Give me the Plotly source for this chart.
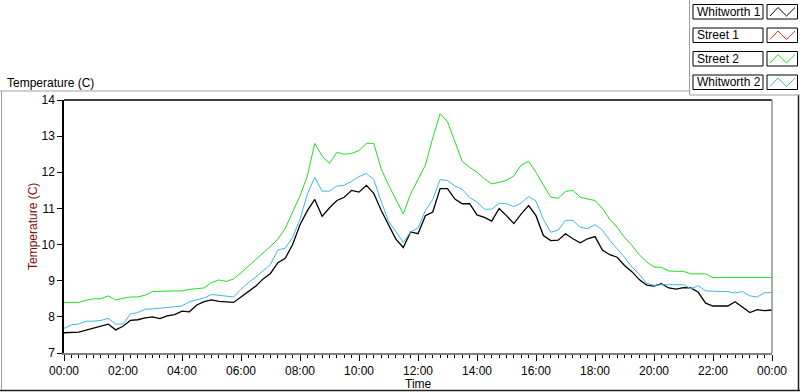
import plotly.graph_objects as go
import pandas as pd

# ---- data (15-minute samples over one day) ----
times = pd.date_range("2000-01-01 00:00", "2000-01-02 00:00", freq="15min")

whitworth1 = [7.56, 7.58, 7.58, 7.63, 7.68, 7.74, 7.80, 7.64, 7.74, 7.90, 7.92, 7.97,
              8.00, 7.95, 8.03, 8.06, 8.16, 8.14, 8.33, 8.42, 8.47, 8.43, 8.42, 8.40,
              8.55, 8.70, 8.85, 9.05, 9.20, 9.50, 9.62, 10.00, 10.55, 10.94, 11.25, 10.78,
              11.02, 11.22, 11.31, 11.50, 11.45, 11.64, 11.42, 10.95, 10.55, 10.15, 9.92, 10.35,
              10.30, 10.80, 10.90, 11.55, 11.55, 11.26, 11.13, 11.13, 10.82, 10.75, 10.65, 11.00,
              10.80, 10.58, 10.85, 11.08, 10.80, 10.25, 10.11, 10.12, 10.30, 10.16, 10.05, 10.16,
              10.22, 9.85, 9.72, 9.65, 9.42, 9.25, 9.03, 8.88, 8.85, 8.92, 8.80, 8.77,
              8.81, 8.80, 8.68, 8.38, 8.30, 8.30, 8.30, 8.42, 8.26, 8.12, 8.20, 8.17, 8.19]

street1 = []  # no data shown

street2 = [8.40, 8.40, 8.40, 8.46, 8.50, 8.50, 8.58, 8.47, 8.52, 8.55, 8.55, 8.60,
           8.70, 8.70, 8.70, 8.70, 8.72, 8.76, 8.77, 8.80, 8.95, 9.02, 8.98, 9.05,
           9.22, 9.40, 9.60, 9.78, 9.95, 10.15, 10.45, 10.90, 11.35, 11.90, 12.80, 12.45,
           12.25, 12.55, 12.50, 12.52, 12.60, 12.80, 12.80, 12.10, 11.65, 11.25, 10.85, 11.40,
           11.80, 12.20, 12.95, 13.62, 13.40, 12.85, 12.30, 12.14, 12.00, 11.82, 11.68, 11.72,
           11.78, 11.90, 12.20, 12.30, 12.00, 11.65, 11.31, 11.28, 11.47, 11.50, 11.31, 11.26,
           11.22, 11.00, 10.70, 10.48, 10.20, 9.98, 9.72, 9.52, 9.38, 9.37, 9.27, 9.26,
           9.26, 9.19, 9.19, 9.19, 9.09, 9.09, 9.09, 9.09, 9.11, 9.09, 9.09, 9.09, 9.09]

whitworth2 = [7.68, 7.78, 7.80, 7.88, 7.88, 7.90, 7.96, 7.80, 7.80, 8.08, 8.12, 8.21,
              8.22, 8.24, 8.26, 8.28, 8.30, 8.42, 8.48, 8.52, 8.62, 8.60, 8.56, 8.55,
              8.76, 8.95, 9.10, 9.28, 9.45, 9.85, 9.90, 10.20, 10.70, 11.40, 11.86, 11.48,
              11.48, 11.62, 11.64, 11.75, 11.88, 11.97, 11.80, 11.20, 10.65, 10.36, 10.06, 10.35,
              10.46, 10.94, 11.25, 11.80, 11.77, 11.62, 11.53, 11.30, 11.18, 10.98, 10.98, 11.14,
              11.13, 11.05, 11.15, 11.33, 11.20, 10.70, 10.34, 10.40, 10.67, 10.67, 10.48, 10.44,
              10.55, 10.40, 10.12, 9.88, 9.65, 9.38, 9.18, 8.93, 8.87, 8.89, 8.89, 8.89,
              8.89, 8.78, 8.86, 8.72, 8.70, 8.70, 8.70, 8.66, 8.70, 8.58, 8.55, 8.67, 8.67]

series_names = ["Whitworth 1", "Street 1", "Street 2", "Whitworth 2"]
series_values = [whitworth1, street1, street2, whitworth2]
series_colors = ["#000000", "#ff3030", "#22dd22", "#3cb8f0"]
series_widths = [1.3, 1.0, 1.0, 1.0]

y_ticks = [7, 8, 9, 10, 11, 12, 13, 14]

# ---- geometry (pixels) ----
W, H = 800, 392
L, R, T, B = 64, 772, 100, 353
FONT = "Liberation Sans"


def px(x):
    return (x - L) / (R - L)


def py(y):
    return (B - y) / (B - T)


fig = go.Figure()
for name, vals, col, w in zip(series_names, series_values, series_colors, series_widths):
    fig.add_trace(go.Scatter(x=times[:len(vals)], y=vals, mode="lines", name=name,
                             line=dict(color=col, width=w), showlegend=False))

shapes = []
gray = "#a0a0a0"
# outer panel
shapes.append(dict(type="line", xref="paper", yref="paper", x0=px(0), x1=px(689), y0=py(91), y1=py(91),
                   line=dict(color=gray, width=1)))
shapes.append(dict(type="line", xref="paper", yref="paper", x0=px(1.5), x1=px(1.5), y0=py(91), y1=py(391),
                   line=dict(color=gray, width=1)))
shapes.append(dict(type="line", xref="paper", yref="paper", x0=px(0), x1=px(800), y0=py(390.5), y1=py(390.5),
                   line=dict(color="#202020", width=1.5)))
shapes.append(dict(type="line", xref="paper", yref="paper", x0=px(798.5), x1=px(798.5), y0=py(95), y1=py(391),
                   line=dict(color="#202020", width=1.5)))
# legend frame
shapes.append(dict(type="line", xref="paper", yref="paper", x0=px(689.5), x1=px(689.5), y0=py(0), y1=py(95),
                   line=dict(color=gray, width=1)))
shapes.append(dict(type="line", xref="paper", yref="paper", x0=px(689.5), x1=px(800), y0=py(95), y1=py(95),
                   line=dict(color=gray, width=1)))
# plot frame: top black, right/bottom gray
shapes.append(dict(type="line", xref="paper", yref="paper", x0=0, x1=1, y0=1, y1=1,
                   line=dict(color="black", width=1.5)))
shapes.append(dict(type="line", xref="paper", yref="paper", x0=1, x1=1, y0=0, y1=1,
                   line=dict(color="#909090", width=1.5)))

annotations = []
# custom legend
row_tops = [4.5, 28, 51.5, 75]
for name, col, top in zip(series_names, series_colors, row_tops):
    bot = top + 14.5
    shapes.append(dict(type="rect", xref="paper", yref="paper", x0=px(693), x1=px(763), y0=py(bot), y1=py(top),
                       line=dict(color="black", width=1), fillcolor="white"))
    shapes.append(dict(type="rect", xref="paper", yref="paper", x0=px(767), x1=px(797.5), y0=py(bot), y1=py(top),
                       line=dict(color="black", width=1), fillcolor="white"))
    pts = [(770, bot - 3), (778, top + 3), (786.5, bot - 3), (795, top + 3)]
    path = "M " + " L ".join(f"{px(a):.5f},{py(b):.5f}" for a, b in pts)
    shapes.append(dict(type="path", xref="paper", yref="paper", path=path,
                       line=dict(color=col, width=1)))
    annotations.append(dict(text=name, xref="paper", yref="paper", x=px(695), y=py((top + bot) / 2),
                            xanchor="left", yanchor="middle", showarrow=False,
                            font=dict(family=FONT, size=12, color="black")))

# panel caption
annotations.append(dict(text="Temperature (C)", xref="paper", yref="paper", x=px(5), y=py(83),
                        xanchor="left", yanchor="middle", showarrow=False,
                        font=dict(family=FONT, size=12, color="black")))
# axis titles
annotations.append(dict(text="Temperature (C)", xref="paper", yref="paper", x=px(33), y=py(227),
                        xanchor="center", yanchor="middle", textangle=-90, showarrow=False,
                        font=dict(family=FONT, size=12, color="#7a1010")))
annotations.append(dict(text="Time", xref="paper", yref="paper", x=px(418), y=py(384),
                        xanchor="center", yanchor="middle", showarrow=False,
                        font=dict(family=FONT, size=12, color="black")))

fig.update_layout(
    width=W, height=H,
    margin=dict(l=L, r=W - R, t=T, b=H - B, pad=0),
    paper_bgcolor="white", plot_bgcolor="white",
    showlegend=False,
    font=dict(family=FONT, size=12, color="black"),
    shapes=shapes, annotations=annotations,
    xaxis=dict(type="date", range=[times[0], times[-1]], tickformat="%H:%M", dtick=7200000,
               tick0=times[0], showgrid=False, zeroline=False,
               showline=True, linecolor="#808080", linewidth=1.5,
               ticks="outside", ticklen=6, tickcolor="black", tickwidth=1,
               minor=dict(dtick=900000, ticks="outside", ticklen=3, tickcolor="black", showgrid=False),
               tickfont=dict(family=FONT, size=12, color="black")),
    yaxis=dict(range=[7, 14], tickvals=y_ticks, showgrid=False, zeroline=False,
               showline=True, linecolor="black", linewidth=1.5,
               ticks="outside", ticklen=5, tickcolor="black",
               tickfont=dict(family=FONT, size=12, color="black")),
)

fig.write_html("out.html", config={"displayModeBar": False},
               post_script="document.body.style.margin='0';document.body.style.overflow='hidden';")
